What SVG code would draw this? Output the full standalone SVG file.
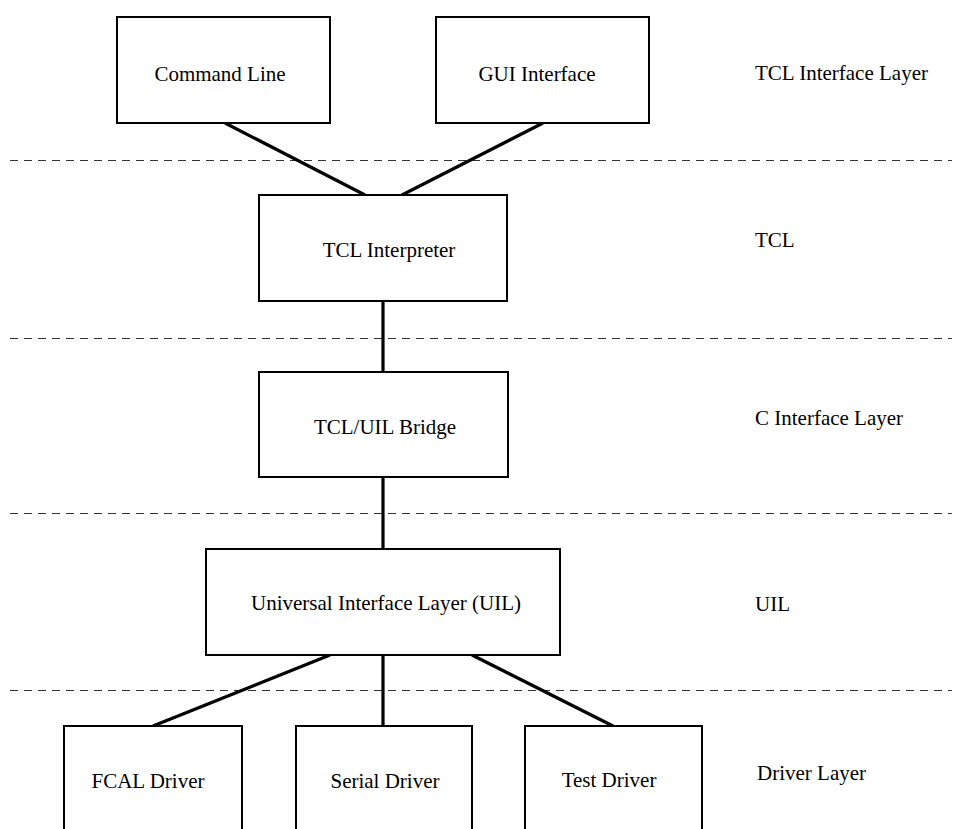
<svg xmlns="http://www.w3.org/2000/svg" width="959" height="829" viewBox="0 0 959 829">
<style>
.box{fill:#fff;stroke:#000;stroke-width:2}
.lbl{font-family:"Liberation Serif","Times New Roman",serif;font-size:21px;fill:#000}
.c{text-anchor:middle}
.conn{stroke:#000;stroke-width:3.2;fill:none}
.dash{stroke:#333;stroke-width:1;stroke-dasharray:8,6;fill:none}
</style>
<rect width="959" height="829" fill="#fff"/>
<g id="layers">
<line class="dash" x1="10" y1="160.5" x2="952" y2="160.5"/>
<line class="dash" x1="10" y1="338.5" x2="952" y2="338.5"/>
<line class="dash" x1="10" y1="513.5" x2="952" y2="513.5"/>
<line class="dash" x1="10" y1="690.5" x2="952" y2="690.5"/>
<text class="lbl" x="755" y="80">TCL Interface Layer</text>
<text class="lbl" x="755" y="247">TCL</text>
<text class="lbl" x="755" y="425">C Interface Layer</text>
<text class="lbl" x="755" y="611">UIL</text>
<text class="lbl" x="757" y="780">Driver Layer</text>
</g>
<g id="connectors">
<line class="conn" x1="225" y1="123" x2="365" y2="195"/>
<line class="conn" x1="543" y1="123" x2="402" y2="195"/>
<line class="conn" x1="383" y1="301" x2="383" y2="372"/>
<line class="conn" x1="383" y1="477" x2="383" y2="549"/>
<line class="conn" x1="330" y1="655" x2="153" y2="726"/>
<line class="conn" x1="383" y1="655" x2="383" y2="726"/>
<line class="conn" x1="472" y1="655" x2="613" y2="726"/>
</g>
<g id="command-line">
<rect class="box" x="117" y="17" width="213" height="106"/>
<text class="lbl c" x="220" y="81">Command Line</text>
</g>
<g id="gui-interface">
<rect class="box" x="436" y="17" width="213" height="106"/>
<text class="lbl c" x="537" y="81">GUI Interface</text>
</g>
<g id="tcl-interpreter">
<rect class="box" x="259" y="195" width="248" height="106"/>
<text class="lbl c" x="389" y="257">TCL Interpreter</text>
</g>
<g id="tcl-uil-bridge">
<rect class="box" x="259" y="372" width="249" height="105"/>
<text class="lbl c" x="385" y="434">TCL/UIL Bridge</text>
</g>
<g id="uil">
<rect class="box" x="206" y="549" width="354" height="106"/>
<text class="lbl c" x="386" y="610">Universal Interface Layer (UIL)</text>
</g>
<g id="fcal-driver">
<rect class="box" x="64" y="726" width="178" height="120"/>
<text class="lbl c" x="148" y="788">FCAL Driver</text>
</g>
<g id="serial-driver">
<rect class="box" x="296" y="726" width="176" height="120"/>
<text class="lbl c" x="385" y="788">Serial Driver</text>
</g>
<g id="test-driver">
<rect class="box" x="525" y="726" width="177" height="120"/>
<text class="lbl c" x="609" y="787">Test Driver</text>
</g>
</svg>
